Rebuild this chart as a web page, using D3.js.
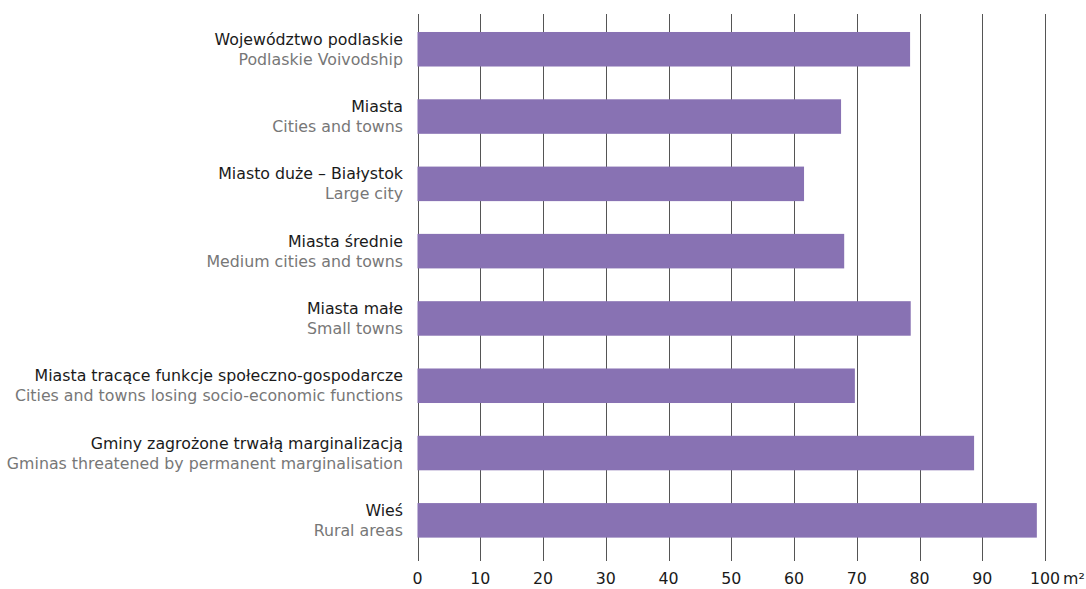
<!DOCTYPE html>
<html><head><meta charset="utf-8">
<script src="https://cdn.jsdelivr.net/npm/d3@7"></script>
<style>
body{margin:0;background:#fff;}
svg{display:block;font-family:"DejaVu Sans",sans-serif;}
</style></head>
<body><svg id="c" width="1086" height="589"></svg>
<script>
const labelsPl = ["Województwo podlaskie","Miasta","Miasto duże – Białystok","Miasta średnie","Miasta małe","Miasta tracące funkcje społeczno-gospodarcze","Gminy zagrożone trwałą marginalizacją","Wieś"];
const labelsEn = ["Podlaskie Voivodship","Cities and towns","Large city","Medium cities and towns","Small towns","Cities and towns losing socio-economic functions","Gminas threatened by permanent marginalisation","Rural areas"];
const values = [78.5, 67.5, 61.6, 68.0, 78.6, 69.7, 88.7, 98.7];
const ticks = [0,10,20,30,40,50,60,70,80,90,100];
const unit = "m²";

const svg = d3.select("#c");
const x = d3.scaleLinear().domain([0,100]).range([417.5,1045]);
const y = d3.scaleBand().domain(labelsPl.map((d,i)=>i)).range([15.6,554]).paddingInner(0.487).paddingOuter(0.2435);

// gridlines
svg.append("g").selectAll("line").data(ticks).join("line")
  .attr("x1",d=>Math.round(x(d))+0.5).attr("x2",d=>Math.round(x(d))+0.5)
  .attr("y1",14).attr("y2",561)
  .attr("stroke","#555").attr("stroke-width",1);

// bars
svg.append("g").selectAll("rect").data(values).join("rect")
  .attr("x",x(0)).attr("y",(d,i)=>y(i))
  .attr("width",d=>x(d)-x(0)).attr("height",y.bandwidth())
  .attr("fill","#8872b3");

// labels
const lg = svg.append("g").attr("text-anchor","end").attr("font-size",15.8);
labelsPl.forEach((l,i)=>{
  const cy = y(i)+y.bandwidth()/2;
  lg.append("text").attr("x",403).attr("y",cy-10).attr("dy","0.35em").attr("fill","#1a1a1a").text(l);
  lg.append("text").attr("x",403).attr("y",cy+10).attr("dy","0.35em").attr("fill","#777").text(labelsEn[i]);
});

// axis tick labels
const ag = svg.append("g").attr("font-size",15.8).attr("fill","#1a1a1a");
ag.selectAll("text").data(ticks).join("text")
  .attr("x",d=>x(d)).attr("y",578).attr("dy","0.35em").attr("text-anchor","middle")
  .text(d=>d);
ag.append("text").attr("x",x(100)+18).attr("y",578).attr("dy","0.35em").attr("text-anchor","start").text(unit);
</script></body></html>
